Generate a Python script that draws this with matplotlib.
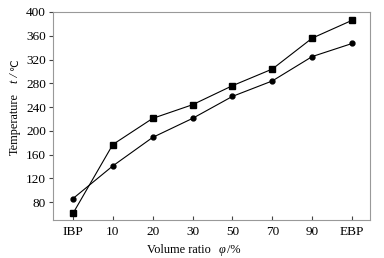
import numpy as np
import matplotlib
matplotlib.use("Agg")
import matplotlib.pyplot as plt

plt.rcParams['font.family'] = ['Liberation Serif', 'DejaVu Serif', 'DejaVu Sans']

categorias = ['IBP', '10', '20', '30', '50', '70', '90', 'EBP']
serie_quadrados = [61, 177, 221, 244, 276, 304, 356, 386]
serie_circulos = [86, 141, 189, 221, 258, 284, 325, 347]
ticks_y = [80, 120, 160, 200, 240, 280, 320, 360, 400]

W, H = 384, 258
fig = plt.figure(figsize=(W / 100, H / 100), dpi=100)
ax = fig.add_axes([53 / W, 38 / H, 317 / W, 208 / H])

x = np.arange(len(categorias))
ax.plot(x, serie_quadrados, color='black', lw=0.8, marker='s', ms=4)
ax.plot(x, serie_circulos, color='black', lw=0.8, marker='o', ms=3.5)

ax.set_xlim(-0.5, 7.45)
ax.set_ylim(50, 400)
ax.set_xticks(x)
ax.set_xticklabels(categorias)
ax.set_yticks(ticks_y)

for s in ax.spines.values():
    s.set_color('#999999')
    s.set_linewidth(0.8)
ax.tick_params(axis='x', direction='in', length=3, color='#444444', labelsize=9.5, pad=4)
ax.tick_params(axis='y', direction='out', length=3, color='#444444', labelsize=9.5, pad=2)

# rótulos dos eixos montados por partes (itálico só na variável)
fs = 8.8
yx = 1 - 250 / H
fig.text(147 / W, yx, 'Volume ratio', fontsize=fs, ha='left', va='center')
fig.text(219 / W, yx, 'φ', fontsize=fs, style='italic', ha='left', va='center')
fig.text(227 / W, yx, '/%', fontsize=fs, ha='left', va='center')

fig.text(15 / W, 1 - 124 / H, 'Temperature', fontsize=fs, rotation=90, ha='center', va='center')
fig.text(15 / W, 1 - 78 / H, 't /', fontsize=fs, style='italic', rotation=90, ha='center', va='center')
fig.text(15 / W, 1 - 65 / H, '℃', fontsize=7.5, rotation=90, ha='center', va='center',
         family=['DejaVu Sans'])

fig.savefig('out.png', dpi=100)
